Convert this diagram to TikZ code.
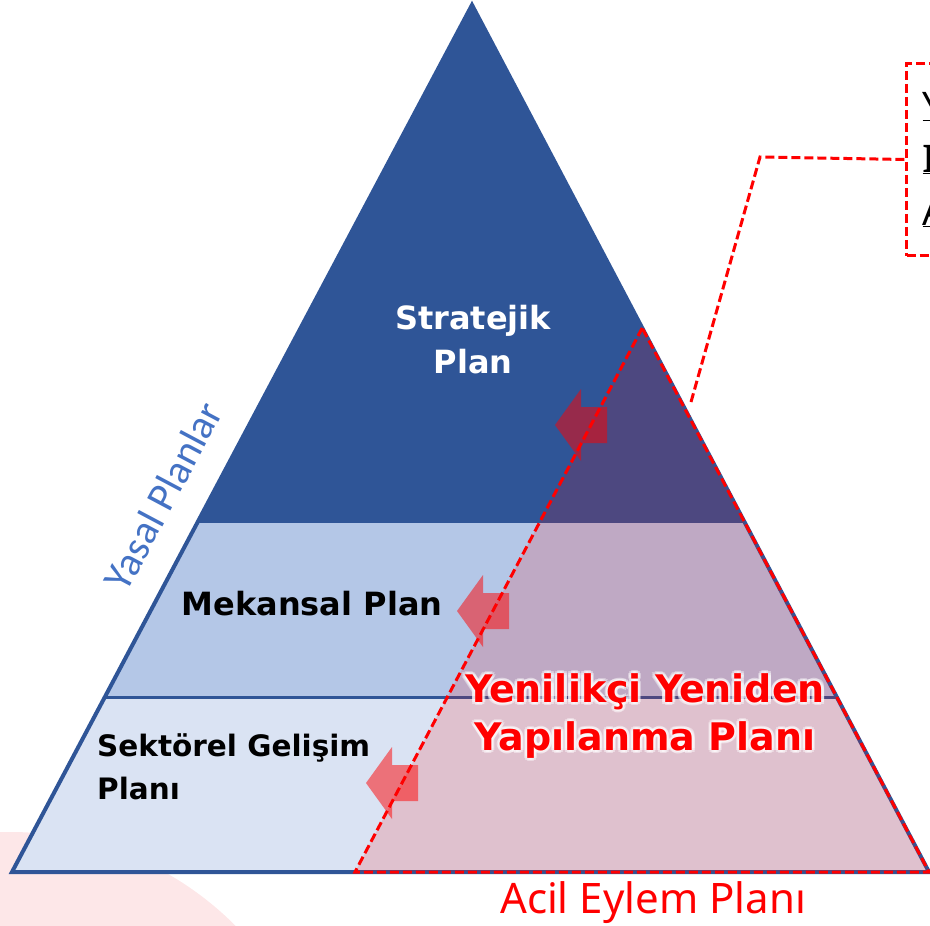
\documentclass[tikz,border=0pt]{standalone}
\usepackage{fontspec}
\setmainfont{DejaVu Sans}
\newfontfamily\notofont{Noto Sans}
\newfontfamily\carlitofont{Carlito}
\usetikzlibrary{calc}
\definecolor{stratblue}{RGB}{47,85,151}
\definecolor{mekblue}{RGB}{180,199,231}
\definecolor{sekblue}{RGB}{218,227,243}
\definecolor{yasalblue}{RGB}{68,114,196}
\definecolor{pinkbg}{RGB}{253,231,232}
\definecolor{planred}{RGB}{255,0,0}
\begin{document}
\begin{tikzpicture}
[x=1pt, y=-1pt, font=\bfseries]
\tikzstyle{outline}=[draw=stratblue, line width=4pt, line join=miter]
\tikzstyle{reddash}=[draw=planred, line width=3pt, dash pattern=on 9pt off 4pt]
\tikzstyle{leftarrow}=[fill=planred, fill opacity=0.5]
\tikzstyle{glow}=[text=white, text opacity=0.45]
\useasboundingbox (0,0) rectangle (930,926);
\fill[pinkbg] (10,1150) circle[radius=318];

% pyramid
\coordinate (top) at (472,5);
\coordinate (bl)  at (12,872);
\coordinate (br)  at (929,872);
\coordinate (ml)  at ($(top)!0.5975!(bl)$);
\coordinate (mr)  at ($(top)!0.5975!(br)$);
\coordinate (sl)  at ($(top)!0.7993!(bl)$);
\coordinate (sr)  at ($(top)!0.7993!(br)$);
\fill[stratblue] (top) -- (ml) -- (mr) -- cycle;
\fill[mekblue]   (ml) -- (sl) -- (sr) -- (mr) -- cycle;
\fill[sekblue]   (sl) -- (bl) -- (br) -- (sr) -- cycle;
\draw[stratblue, line width=3pt] (sl) -- (sr);
\draw[outline] (top) -- (bl) -- (br) -- cycle;

% acil eylem triangle
\coordinate (rtop) at ($(top)!0.3725!(br)$);
\coordinate (rbl)  at (355,872);
\fill[planred, fill opacity=0.15] (rtop) -- (rbl) -- (br) -- cycle;
\draw[reddash] (rtop) -- (rbl) -- (br) -- cycle;

% arrows
\foreach \x/\y in {555/425, 457/611, 366/783}
  \fill[leftarrow] (\x,\y) -- ++(26,-36) -- ++(0,18) -- ++(26,0) -- ++(0,36) -- ++(-26,0) -- ++(0,18) -- cycle;

% labels
\node[text=white, align=center, font=\bfseries\fontsize{32}{44}\selectfont] (strat) at (473,340) {Stratejik\\Plan};
\node[font=\bfseries\fontsize{32}{40}\selectfont] (mek) at (312,604) {Mekansal Plan};
\node[anchor=west, align=left, inner sep=0pt, font=\bfseries\fontsize{29.5}{43}\selectfont] (sek) at (97,767) {Sektörel Gelişim\\Planı};
\foreach \a in {0,45,...,315}
  \node[glow, align=center, font=\bfseries\fontsize{38}{48}\selectfont] (glow\a) at ($(645,716)+(\a:3pt)$) {Yenilikçi Yeniden\\Yapılanma Planı};
\node[text=planred, align=center, font=\bfseries\fontsize{38}{48}\selectfont] (yyp) at (645,716) {Yenilikçi Yeniden\\Yapılanma Planı};
\node[text=planred, font=\notofont\fontsize{42}{50}\selectfont] (acil) at (653,903) {Acil Eylem Planı};
\node[text=yasalblue, rotate=62, font=\carlitofont\fontsize{41}{44}\selectfont] (yasal) at (163,496) {Yasal Planlar};

% callout
\node[reddash, anchor=north west, minimum height=192pt, inner xsep=16pt, align=left, font=\notofont\bfseries\fontsize{38}{53}\selectfont] (callout) at (905,62) {\underline{Y}\\\underline{I}\\\underline{A}};
\coordinate (calloutend) at (691,402);
\draw[reddash] (calloutend) -- (760,157) -- (callout.west);
\end{tikzpicture}
\end{document}
